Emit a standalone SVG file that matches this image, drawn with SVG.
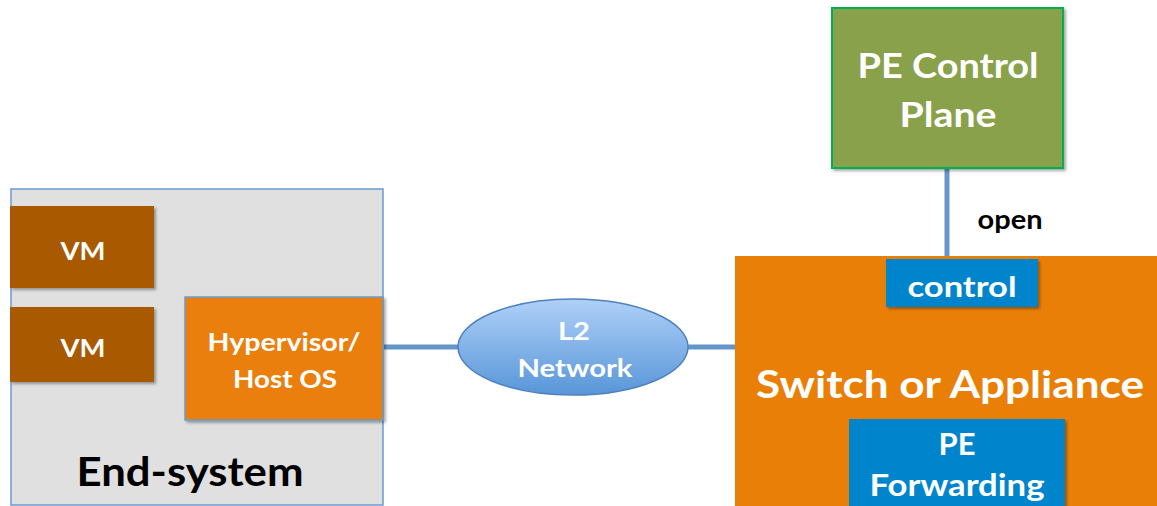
<svg xmlns="http://www.w3.org/2000/svg" width="1157" height="506" viewBox="0 0 1157 506">
<defs>
<linearGradient id="gEll" x1="0" y1="0" x2="0" y2="1">
<stop offset="0" stop-color="#AFD0F8"/>
<stop offset="1" stop-color="#5896D8"/>
</linearGradient>
<filter id="sh" x="-10%" y="-10%" width="130%" height="130%">
<feDropShadow dx="2" dy="2" stdDeviation="1.5" flood-color="#000" flood-opacity="0.35"/>
</filter>
<style>
text{font-family:Lato,"Open Sans","Liberation Sans",sans-serif;font-weight:700;text-anchor:middle}
.w{fill:#FFFFFF}
.k{fill:#000000}
.conn{stroke:#6496C8;stroke-width:5;fill:none}
</style>
</defs>
<g id="connectors">
<line class="conn" x1="384" y1="347" x2="736" y2="347"/>
<line class="conn" x1="947" y1="168" x2="947" y2="257"/>
<text class="k" x="1010" y="229" font-size="26" textLength="65" lengthAdjust="spacingAndGlyphs">open</text>
</g>
<g id="end-system">
<rect x="11" y="189" width="372" height="316" fill="#E0E0E0" stroke="#6B9BD0" stroke-width="1.5"/>
<text class="k" x="190" y="486" font-size="40" textLength="227" lengthAdjust="spacingAndGlyphs">End-system</text>
</g>
<g id="vm1">
<rect x="10" y="206" width="144" height="82" fill="#A95A00" filter="url(#sh)"/>
<text class="w" x="83" y="260" font-size="24" textLength="45" lengthAdjust="spacingAndGlyphs">VM</text>
</g>
<g id="vm2">
<rect x="10" y="307" width="144" height="75" fill="#A95A00" filter="url(#sh)"/>
<text class="w" x="83" y="357" font-size="24" textLength="45" lengthAdjust="spacingAndGlyphs">VM</text>
</g>
<g id="hypervisor">
<rect x="185" y="297" width="198" height="123" fill="#EA7F07" stroke="#6B9BD0" stroke-width="1.5" filter="url(#sh)"/>
<text class="w" x="284" y="351" font-size="25" textLength="153" lengthAdjust="spacingAndGlyphs">Hypervisor/</text>
<text class="w" x="285" y="388" font-size="25" textLength="104" lengthAdjust="spacingAndGlyphs">Host OS</text>
</g>
<g id="l2-network">
<ellipse cx="573" cy="347" rx="115" ry="48" fill="url(#gEll)" stroke="#4F81BD" stroke-width="1.5"/>
<text class="w" x="574" y="340" font-size="24" textLength="32" lengthAdjust="spacingAndGlyphs">L2</text>
<text class="w" x="575" y="377" font-size="24" textLength="115" lengthAdjust="spacingAndGlyphs">Network</text>
</g>
<g id="pe-control-plane">
<rect x="832" y="8" width="231" height="160" fill="#8AA14B" stroke="#00B050" stroke-width="2" filter="url(#sh)"/>
<text class="w" x="948" y="78" font-size="34" textLength="181" lengthAdjust="spacingAndGlyphs">PE Control</text>
<text class="w" x="948" y="127" font-size="34" textLength="97" lengthAdjust="spacingAndGlyphs">Plane</text>
</g>
<g id="switch">
<rect x="735" y="256" width="430" height="260" fill="#EA7F07"/>
<text class="w" x="950" y="398" font-size="38" textLength="388" lengthAdjust="spacingAndGlyphs">Switch or Appliance</text>
</g>
<g id="control">
<rect x="886" y="259" width="152" height="48" fill="#0085CC" filter="url(#sh)"/>
<text class="w" x="962" y="297" font-size="29" textLength="109" lengthAdjust="spacingAndGlyphs">control</text>
</g>
<g id="pe-forwarding">
<rect x="849" y="419" width="216" height="100" fill="#0085CC" filter="url(#sh)"/>
<text class="w" x="957" y="455" font-size="30" textLength="37" lengthAdjust="spacingAndGlyphs">PE</text>
<text class="w" x="957" y="496" font-size="30" textLength="175" lengthAdjust="spacingAndGlyphs">Forwarding</text>
</g>
</svg>
